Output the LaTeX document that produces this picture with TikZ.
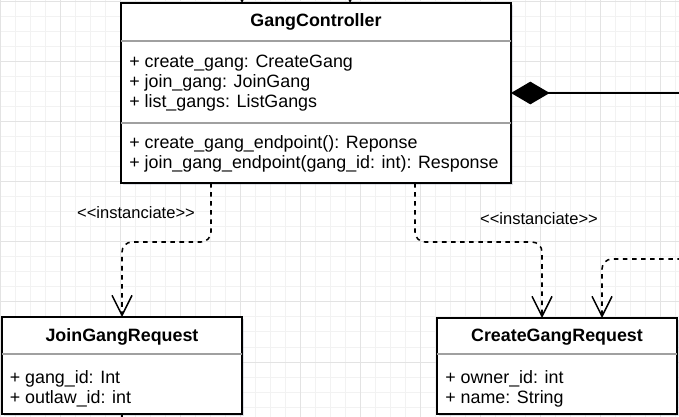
\documentclass[tikz,border=0pt]{standalone}
\usepackage{fontspec}
\setmainfont{Liberation Sans}
\usetikzlibrary{arrows.meta,calc,shadows}
\definecolor{gridminor}{HTML}{F2F2F2}
\definecolor{gridmajor}{HTML}{E3E3E3}
\definecolor{sepcol}{HTML}{A0A0A0}
\definecolor{shadowcol}{HTML}{8088A0}
\tikzset{
  cls/.style={draw=black, line width=1.25pt, fill=white, inner sep=0pt, outer sep=0pt,
    drop shadow={shadow xshift=1.8pt, shadow yshift=-1.8pt, opacity=0.25, fill=shadowcol}},
  sepline/.style={draw=sepcol, line width=0.8pt},
  txt/.style={font=\fontsize{13.4}{15}\selectfont, inner sep=0pt},
  ttl/.style={font=\fontsize{13.4}{15}\selectfont\bfseries, inner sep=0pt},
  lbl/.style={font=\fontsize{12.4}{14}\selectfont, inner sep=0pt},
  dep/.style={draw=black, line width=1.15pt, dash pattern=on 3.4pt off 3.4pt, rounded corners=7.5pt,
    -{Straight Barb[length=15pt,width=15pt]}},
  assoc/.style={draw=black, line width=1.15pt, -{Straight Barb[length=15pt,width=15pt]}},
  comp/.style={draw=black, line width=1.15pt, {Diamond[length=29pt,width=17pt]}-}
}
\begin{document}
\begin{tikzpicture}[x=0.75pt,y=-0.75pt]
\useasboundingbox (0,0) rectangle (679,417);
\fill[white] (0,0) rectangle (679,417);
% grid
\foreach \x in {0,15,...,675} \draw[gridminor, line width=0.75pt] (\x,0) -- (\x,417);
\foreach \y in {2,17,...,416} \draw[gridminor, line width=0.75pt] (0,\y) -- (679,\y);
\foreach \x in {0,60,...,660} \draw[gridmajor, line width=0.75pt] (\x,0) -- (\x,417);
\foreach \y in {2,62,...,362} \draw[gridmajor, line width=0.75pt] (0,\y) -- (679,\y);

% incoming stubs at the top
\coordinate (t1) at (242,-25);
\coordinate (t2) at (350,-25);
% GangController
\node[cls, minimum width=292.5pt, minimum height=135pt, anchor=north west] (gc) at (121,3) {};
\draw[assoc] (t1) -- (t1 |- gc.north);
\draw[assoc] (t2) -- (t2 |- gc.north);
\draw[sepline] ($(gc.north west)+(0,38)$) -- ($(gc.north east)+(0,38)$);
\draw[sepline] ($(gc.north west)+(0,120)$) -- ($(gc.north east)+(0,120)$);
\node[ttl, anchor=base] (gct) at (316,26.5) {GangController};
\node[txt, anchor=base west] (gca1) at (129,68) {+ create\_gang: CreateGang};
\node[txt, anchor=base west] (gca2) at (129,88) {+ join\_gang: JoinGang};
\node[txt, anchor=base west] (gca3) at (129,108) {+ list\_gangs: ListGangs};
\node[txt, anchor=base west] (gcm1) at (129,149) {+ create\_gang\_endpoint(): Reponse};
\node[txt, anchor=base west] (gcm2) at (129,169) {+ join\_gang\_endpoint(gang\_id: int): Response};

% JoinGangRequest
\node[cls, minimum width=180pt, minimum height=72.75pt, anchor=north west] (jgr) at (2,317) {};
\draw[sepline] ($(jgr.north west)+(0,37)$) -- ($(jgr.north east)+(0,37)$);
\node[ttl, anchor=base] (jgrt) at (122,341.5) {JoinGangRequest};
\node[txt, anchor=base west] (jgra1) at (9.5,383) {+ gang\_id: Int};
\node[txt, anchor=base west] (jgra2) at (9.5,403) {+ outlaw\_id: int};
\coordinate (jb) at (122,440);
\draw[black, line width=1.15pt] (jgr.south) -- (jb);

% CreateGangRequest
\node[cls, minimum width=180pt, minimum height=72pt, anchor=north west] (cgr) at (437,318) {};
\draw[sepline] ($(cgr.north west)+(0,36)$) -- ($(cgr.north east)+(0,36)$);
\node[ttl, anchor=base] (cgrt) at (557,341.5) {CreateGangRequest};
\node[txt, anchor=base west] (cgra1) at (445,383) {+ owner\_id: int};
\node[txt, anchor=base west] (cgra2) at (445,403) {+ name: String};

% composition
\coordinate (re) at (700,93);
\draw[comp] (gc.east) -- (re);

% dependencies
\draw[dep] ($(gc.south west)+(90,0)$) -- ++(0,59) -| (jgr.north);
\draw[dep] ($(gc.south west)+(294,0)$) -- ++(0,59) -| ($(cgr.north west)+(105,0)$);
\coordinate (rc) at (700,259);
\draw[dep] (rc) -| ($(cgr.north west)+(165,0)$);

% labels
\node[lbl] (l1) at (136,213) {<\kern0pt<instanciate>\kern0pt>};
\node[lbl] (l2) at (539,219) {<\kern0pt<instanciate>\kern0pt>};
\end{tikzpicture}
\end{document}
